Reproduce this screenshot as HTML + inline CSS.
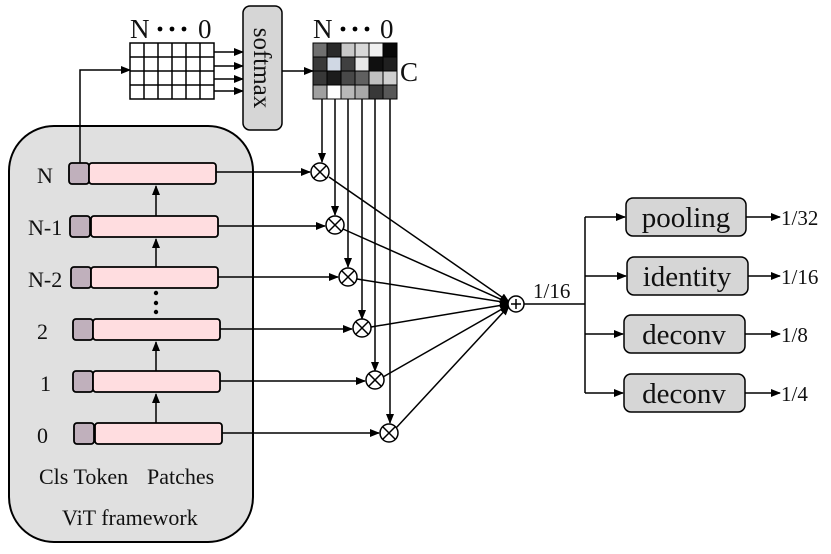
<!DOCTYPE html>
<html><head><meta charset="utf-8"><style>body{margin:0;background:#fff}svg{display:block}text{font-family:"Liberation Serif",serif;fill:#111}</style></head><body>
<svg width="831" height="554" viewBox="0 0 831 554" xmlns="http://www.w3.org/2000/svg">
<defs><marker id="a" markerWidth="10" markerHeight="8" refX="9" refY="4" orient="auto" markerUnits="userSpaceOnUse"><path d="M0,0 L10,4 L0,8 z" fill="#000"/></marker></defs>
<rect x="9" y="126" width="244" height="416" rx="45" fill="#e0e0e0" stroke="#000" stroke-width="2"/>
<g font-size="22">
<text x="37" y="183">N</text><text x="28" y="235">N-1</text><text x="28" y="287">N-2</text>
<text x="37" y="339">2</text><text x="40" y="391">1</text><text x="37" y="443">0</text>
<text x="39" y="484">Cls Token</text><text x="147" y="484">Patches</text>
<text x="62" y="525">ViT framework</text>
</g>
<g stroke="#000" stroke-width="1.8">
<rect x="69" y="163" width="20" height="21" rx="3" fill="#c0b0bc"/><rect x="89" y="163" width="127" height="21" rx="3" fill="#ffdde0"/>
<rect x="70" y="216" width="20" height="21" rx="3" fill="#c0b0bc"/><rect x="91" y="216" width="127" height="21" rx="3" fill="#ffdde0"/>
<rect x="71" y="267" width="20" height="21" rx="3" fill="#c0b0bc"/><rect x="91" y="267" width="127" height="21" rx="3" fill="#ffdde0"/>
<rect x="73" y="319" width="20" height="21" rx="3" fill="#c0b0bc"/><rect x="93" y="319" width="127" height="21" rx="3" fill="#ffdde0"/>
<rect x="73" y="371" width="20" height="21" rx="3" fill="#c0b0bc"/><rect x="93" y="371" width="127" height="21" rx="3" fill="#ffdde0"/>
<rect x="74" y="423" width="20" height="21" rx="3" fill="#c0b0bc"/><rect x="95" y="423" width="127" height="21" rx="3" fill="#ffdde0"/>
</g>
<g stroke="#000" stroke-width="1.5" fill="none" marker-end="url(#a)">
<line x1="156" y1="216" x2="156" y2="186"/><line x1="156" y1="267" x2="156" y2="239"/>
<line x1="156" y1="371" x2="156" y2="342"/><line x1="156" y1="423" x2="156" y2="394"/>
<polyline points="80,163 80,70 130,70"/>
<line x1="216" y1="172" x2="310" y2="172"/><line x1="218" y1="226" x2="325" y2="226"/>
<line x1="218" y1="277" x2="338" y2="277"/><line x1="220" y1="329" x2="352" y2="329"/>
<line x1="220" y1="381" x2="365" y2="381"/><line x1="222" y1="433" x2="379" y2="433"/>
<line x1="214" y1="52" x2="243" y2="52"/><line x1="214" y1="66" x2="243" y2="66"/>
<line x1="214" y1="79" x2="243" y2="79"/><line x1="214" y1="91" x2="243" y2="91"/>
<line x1="282" y1="71" x2="313" y2="71"/>
<line x1="322" y1="99" x2="322" y2="162"/><line x1="335" y1="99" x2="335" y2="215"/>
<line x1="348" y1="99" x2="348" y2="267"/><line x1="362" y1="99" x2="362" y2="319"/>
<line x1="375" y1="99" x2="375" y2="371"/><line x1="390" y1="99" x2="390" y2="423"/>
<line x1="329" y1="177" x2="509" y2="302"/><line x1="343" y1="229" x2="509" y2="303"/>
<line x1="357" y1="279" x2="509" y2="303"/><line x1="371" y1="327" x2="509" y2="304"/>
<line x1="383" y1="377" x2="509" y2="305"/><line x1="396" y1="428" x2="509" y2="306"/>
<polyline points="585,217 585,393" marker-end="none"/>
<line x1="524" y1="304" x2="585" y2="304" marker-end="none"/>
<line x1="585" y1="217" x2="625" y2="217"/><line x1="585" y1="276" x2="626" y2="276"/>
<line x1="585" y1="334" x2="623" y2="334"/><line x1="585" y1="393" x2="623" y2="393"/>
<line x1="746" y1="217" x2="780" y2="217"/><line x1="748" y1="276" x2="780" y2="276"/>
<line x1="745" y1="334" x2="780" y2="334"/><line x1="745" y1="393" x2="780" y2="393"/>
</g>
<g fill="#000"><circle cx="156" cy="293" r="2.2"/><circle cx="156" cy="303" r="2.2"/><circle cx="156" cy="312" r="2.2"/></g>
<g stroke="#000" stroke-width="1.5" fill="#fff">
<g transform="translate(320,172)"><circle r="9"/><path d="M-6,-6L6,6M-6,6L6,-6"/></g>
<g transform="translate(335,225)"><circle r="9"/><path d="M-6,-6L6,6M-6,6L6,-6"/></g>
<g transform="translate(348,277)"><circle r="9"/><path d="M-6,-6L6,6M-6,6L6,-6"/></g>
<g transform="translate(362,328)"><circle r="9"/><path d="M-6,-6L6,6M-6,6L6,-6"/></g>
<g transform="translate(375,380)"><circle r="9"/><path d="M-6,-6L6,6M-6,6L6,-6"/></g>
<g transform="translate(389,433)"><circle r="9"/><path d="M-6,-6L6,6M-6,6L6,-6"/></g>
<g transform="translate(516,304)"><circle r="8"/><path d="M-5,0H5M0,-5V5"/></g>
</g>
<g stroke="#000" stroke-width="1.5" fill="#fff">
<rect x="130" y="43" width="84" height="56"/>
<path d="M144,43V99M158,43V99M172,43V99M186,43V99M200,43V99M130,57H214M130,71H214M130,85H214" fill="none"/>
</g>
<text x="130" y="38" font-size="27">N</text><g fill="#000"><circle cx="160" cy="29" r="2.4"/><circle cx="172" cy="29" r="2.4"/><circle cx="184" cy="29" r="2.4"/><circle cx="343" cy="29" r="2.4"/><circle cx="355" cy="29" r="2.4"/><circle cx="367" cy="29" r="2.4"/></g><text x="198" y="38" font-size="27">0</text>
<text x="313" y="38" font-size="27">N</text><text x="380" y="38" font-size="27">0</text>
<text x="400" y="81" font-size="27">C</text>
<rect x="243" y="6" width="39" height="124" rx="7" fill="#d6d6d6" stroke="#000" stroke-width="1.5"/>
<text font-size="25" transform="translate(254,68) rotate(90)" text-anchor="middle">softmax</text>
<g stroke="#000" stroke-width="1">
<rect x="313" y="43" width="14" height="14" fill="#707070"/><rect x="327" y="43" width="14" height="14" fill="#2a2a2a"/><rect x="341" y="43" width="14" height="14" fill="#c8c8c8"/><rect x="355" y="43" width="14" height="14" fill="#d8d8d8"/><rect x="369" y="43" width="14" height="14" fill="#f0f0f0"/><rect x="383" y="43" width="14" height="14" fill="#080808"/>
<rect x="313" y="57" width="14" height="14" fill="#3a3a3a"/><rect x="327" y="57" width="14" height="14" fill="#d0d8e4"/><rect x="341" y="57" width="14" height="14" fill="#404040"/><rect x="355" y="57" width="14" height="14" fill="#e8e8e8"/><rect x="369" y="57" width="14" height="14" fill="#101010"/><rect x="383" y="57" width="14" height="14" fill="#202020"/>
<rect x="313" y="71" width="14" height="14" fill="#383838"/><rect x="327" y="71" width="14" height="14" fill="#1c1c1c"/><rect x="341" y="71" width="14" height="14" fill="#484848"/><rect x="355" y="71" width="14" height="14" fill="#606060"/><rect x="369" y="71" width="14" height="14" fill="#c0c0c0"/><rect x="383" y="71" width="14" height="14" fill="#d0d0d0"/>
<rect x="313" y="85" width="14" height="14" fill="#a0a0a0"/><rect x="327" y="85" width="14" height="14" fill="#ffffff"/><rect x="341" y="85" width="14" height="14" fill="#b8b8b8"/><rect x="355" y="85" width="14" height="14" fill="#a8a8a8"/><rect x="369" y="85" width="14" height="14" fill="#383838"/><rect x="383" y="85" width="14" height="14" fill="#585858"/>
</g>
<text x="533" y="298" font-size="21">1/16</text>
<g stroke="#000" stroke-width="1.5" fill="#d6d6d6">
<rect x="626" y="198" width="120" height="38" rx="7"/><rect x="627" y="257" width="121" height="38" rx="7"/>
<rect x="624" y="315" width="121" height="38" rx="7"/><rect x="624" y="374" width="121" height="38" rx="7"/>
</g>
<g font-size="29" text-anchor="middle">
<text x="686" y="227">pooling</text><text x="687" y="286">identity</text>
<text x="684" y="344">deconv</text><text x="684" y="403">deconv</text>
</g>
<g font-size="21">
<text x="781" y="225">1/32</text><text x="781" y="284">1/16</text><text x="781" y="342">1/8</text><text x="781" y="401">1/4</text>
</g>
</svg>
</body></html>
